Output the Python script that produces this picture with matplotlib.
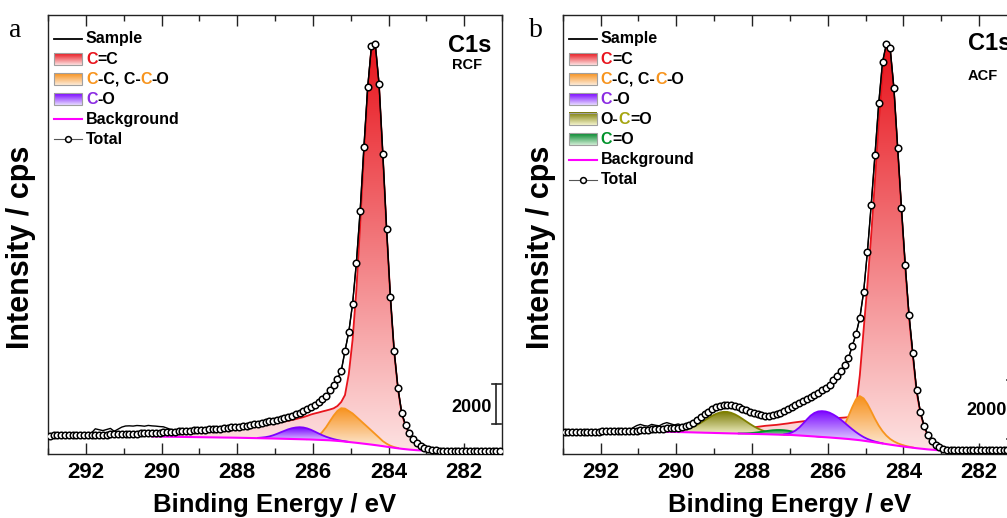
import numpy as np
import matplotlib
matplotlib.use("Agg")
import matplotlib.pyplot as plt
from matplotlib.colors import to_rgb
from matplotlib.lines import Line2D
from matplotlib.patches import Rectangle
from matplotlib.ticker import MultipleLocator

plt.rcParams["font.family"] = ["Liberation Sans", "DejaVu Sans"]
plt.rcParams["font.weight"] = "bold"

STEP = 0.1  # eV between data points
energy = np.round(np.linspace(292.95, 281.05, 120), 2)

# ---------------- RCF (panel a) ----------------
rcf_sample = [
    3880, 3870, 3885, 3878, 3890, 3882, 3885, 3895, 3888, 3900,
    3910, 4005, 4210, 4165, 4120, 4175, 4230, 4085, 4190, 4295,
    4350, 4358, 4346, 4374, 4362, 4340, 4378, 4356, 4344, 4322,
    4310, 4242, 4174, 4126, 4078, 4080, 4122, 4124, 4121, 4155,
    4160, 4160, 4240, 4200, 4200, 4235, 4245, 4260, 4295, 4305,
    4325, 4340, 4380, 4400, 4445, 4470, 4515, 4540, 4590, 4620,
    4665, 4695, 4755, 4795, 4860, 4925, 5025, 5105, 5195, 5285,
    5430, 5570, 5705, 5870, 6155, 6395, 6705, 7095, 8105, 9045,
    10450, 12500, 15100, 18300, 21300, 23350, 23450, 21450, 17950, 14200,
    10800, 8100, 6250, 5000, 4400, 4000, 3725, 3525, 3375, 3275,
    3205, 3145, 3135, 3118, 3125, 3115, 3126, 3114, 3124, 3116,
    3125, 3117, 3123, 3114, 3126, 3118, 3122, 3116, 3124, 3117]
rcf_total = [
    3875, 3877, 3880, 3882, 3884, 3887, 3889, 3891, 3893, 3896,
    3900, 3905, 3910, 3915, 3920, 3925, 3930, 3935, 3940, 3945,
    3950, 3958, 3966, 3974, 3982, 3990, 3998, 4006, 4014, 4022,
    4030, 4042, 4054, 4066, 4078, 4090, 4102, 4114, 4126, 4140,
    4150, 4165, 4180, 4195, 4210, 4225, 4245, 4265, 4285, 4305,
    4320, 4345, 4375, 4405, 4440, 4475, 4510, 4545, 4585, 4625,
    4660, 4700, 4750, 4800, 4855, 4930, 5020, 5110, 5190, 5290,
    5425, 5575, 5700, 5875, 6150, 6400, 6700, 7100, 8100, 9050,
    10450, 12500, 15100, 18300, 21300, 23350, 23450, 21450, 17950, 14200,
    10800, 8100, 6250, 5000, 4400, 4000, 3725, 3525, 3375, 3275,
    3200, 3150, 3130, 3122, 3120, 3118, 3121, 3119, 3120, 3118,
    3120, 3121, 3119, 3118, 3120, 3122, 3119, 3120, 3118, 3120]
rcf_bg_start = 290.25
rcf_bg = [
    3825, 3822, 3820, 3817, 3814, 3812, 3809, 3806, 3803, 3801, 3798, 3795,
    3792, 3790, 3787, 3784, 3782, 3779, 3776, 3773, 3771, 3768, 3765,
    3761, 3757, 3753, 3749, 3745, 3741, 3737, 3733, 3729, 3725,
    3720, 3715, 3710, 3705, 3700, 3695, 3690, 3685, 3680, 3675,
    3667, 3659, 3651, 3643, 3635, 3620, 3605, 3590, 3570, 3550,
    3530, 3510, 3488, 3465, 3443, 3420, 3395, 3370, 3343, 3315,
    3288, 3260, 3235, 3210, 3190, 3170, 3155, 3140, 3132, 3125,
    3122, 3120]
# fitted components, counts above background
rcf_cc_start = 290.25          # C=C
rcf_cc = [
    100, 120, 140, 160, 180, 200, 215, 230, 245, 260, 275, 290,
    305, 320, 335, 350, 370, 390, 410, 430, 450, 475, 500,
    540, 565, 590, 615, 640, 665, 690, 715, 745, 775,
    805, 835, 870, 905, 950, 1000, 1055, 1110, 1175, 1250,
    1310, 1365, 1425, 1480, 1540, 1615, 1745, 1960, 2330, 3400,
    5120, 7640, 10900, 14435, 17600, 19880, 20000, 17980, 14500, 10785,
    7460, 4790, 2965, 1740, 1160, 780, 545, 360, 220, 125,
    50, 10]
rcf_ccco_start = 286.15        # C-C, C-C-O
rcf_ccco = [15, 50, 100, 200, 400, 650, 950, 1250, 1500, 1650, 1650, 1550,
            1450, 1300, 1150, 1000, 850, 700, 550, 400, 250, 150, 75, 35, 15]
rcf_co_start = 287.45          # C-O
rcf_co = [15, 35, 60, 100, 160, 235, 320, 400, 480, 540, 580, 600, 590,
          550, 485, 405, 320, 240, 170, 115, 75, 45, 25, 15, 5]

# ---------------- ACF (panel b) ----------------
acf_sample = [
    2325, 2312, 2322, 2328, 2316, 2325, 2330, 2318, 2329, 2322,
    2335, 2327, 2345, 2337, 2355, 2383, 2416, 2380, 2453, 2527,
    2570, 2530, 2510, 2570, 2541, 2521, 2591, 2631, 2591, 2552,
    2585, 2542, 2536, 2567, 2625, 2730, 2817, 2929, 3009, 3084,
    3170, 3205, 3236, 3240, 3236, 3208, 3168, 3105, 3064, 3003,
    2964, 2918, 2896, 2850, 2862, 2874, 2930, 2969, 3049, 3105,
    3185, 3241, 3321, 3377, 3457, 3513, 3593, 3649, 3746, 3819,
    3916, 4074, 4222, 4380, 4596, 4822, 5242, 5638, 6194, 7066,
    8432, 10030, 11730, 13498, 14892, 15504, 15368, 14008, 11968, 9928,
    7990, 6290, 4998, 3740, 2992, 2516, 2210, 2006, 1887, 1802,
    1750, 1708, 1706, 1688, 1698, 1687, 1697, 1689, 1698, 1688,
    1698, 1688, 1697, 1687, 1698, 1690, 1696, 1686, 1699, 1688]
acf_total = [
    2318, 2319, 2320, 2321, 2322, 2323, 2324, 2325, 2326, 2327,
    2330, 2332, 2335, 2337, 2340, 2343, 2346, 2350, 2353, 2357,
    2370, 2380, 2390, 2400, 2411, 2421, 2431, 2441, 2451, 2462,
    2465, 2482, 2516, 2567, 2635, 2720, 2822, 2924, 3009, 3094,
    3162, 3213, 3230, 3247, 3230, 3213, 3162, 3111, 3060, 3009,
    2958, 2924, 2890, 2856, 2856, 2880, 2924, 2975, 3043, 3111,
    3179, 3247, 3315, 3383, 3451, 3519, 3587, 3655, 3740, 3825,
    3910, 4080, 4216, 4386, 4590, 4828, 5236, 5644, 6188, 7072,
    8432, 10030, 11730, 13498, 14892, 15504, 15368, 14008, 11968, 9928,
    7990, 6290, 4998, 3740, 2992, 2516, 2210, 2006, 1887, 1802,
    1744, 1714, 1700, 1694, 1692, 1693, 1691, 1694, 1692, 1693,
    1692, 1694, 1691, 1693, 1692, 1694, 1692, 1691, 1693, 1692]
acf_bg_start = 290.65
acf_bg = [
    2329, 2326, 2324, 2321, 2318, 2316, 2313, 2310, 2308, 2305, 2302,
    2299, 2295, 2292, 2288, 2285, 2282, 2278, 2275, 2271, 2268,
    2265, 2262, 2259, 2256, 2252, 2249, 2246, 2243, 2240, 2237,
    2233, 2229, 2225, 2221, 2218, 2214, 2210,
    2202, 2194, 2186, 2177, 2169,
    2160, 2151, 2142, 2134, 2125,
    2115, 2105, 2095, 2084, 2074,
    2060, 2047, 2033, 2015, 1997, 1979,
    1960, 1940, 1921, 1902, 1882, 1863,
    1845, 1827, 1809, 1793, 1777, 1761,
    1747, 1734, 1720, 1710, 1700, 1690,
    1685, 1680]
acf_cc_start = 288.35          # C=C
acf_cc = [
    110, 140, 170, 200, 225, 245, 265, 285, 300, 315,
    330, 350, 370, 390, 415, 440, 465, 490, 515, 540,
    565, 585, 605, 620, 640, 660, 680, 700, 720, 745, 790,
    1075, 2210, 3770, 5315, 7030, 8920, 10910, 12530, 13530, 13420,
    12080, 10050, 8030, 6080, 4400, 3120, 1910, 1210, 750, 455,
    280, 170, 95, 50, 15]
acf_ccco_start = 286.05        # C-C, C-C-O
acf_ccco = [10, 25, 60, 130, 260, 480, 780, 1100, 1380, 1500, 1440, 1270,
            1040, 800, 590, 420, 290, 195, 130, 85, 55, 34, 20, 10]
acf_co_start = 287.15          # C-O
acf_co = [15, 40, 85, 160, 270, 410, 560, 700, 800, 860, 880, 875, 845, 790,
          720, 635, 540, 440, 345, 260, 185, 125, 80, 48, 27, 14, 6]
acf_occo_start = 290.35        # O-C=O
acf_occo = [5, 9, 15, 25, 41, 63, 95, 138, 192, 258, 335, 418, 502, 582, 650,
            700, 727, 727, 700, 650, 582, 502, 418, 335, 258, 192, 138, 95,
            63, 41, 25, 15, 9, 5]
acf_cdo_start = 288.35         # C=O
acf_cdo = [5, 9, 16, 26, 40, 58, 79, 102, 124, 143, 155, 160, 155, 143, 124,
           102, 79, 58, 40, 26, 16, 9, 5]

RED, ORANGE, PURPLE, OLIVE, GREEN = "#e8141c", "#f7941d", "#7f00ff", "#808000", "#00922a"
STYLE = {
    "C=C":   dict(line=RED,    top="#e8141c", bottom="#fde2e2",
                  label=[("C", RED), ("=C", "black")]),
    "C-C":   dict(line=ORANGE, top="#f7901a", bottom="#fdebd9",
                  label=[("C", ORANGE), ("-C, C-", "black"), ("C", ORANGE), ("-O", "black")]),
    "C-O":   dict(line=PURPLE, top="#7800ff", bottom="#e6dcff",
                  label=[("C", "#8a2be2"), ("-O", "black")]),
    "O-C=O": dict(line=OLIVE,  top="#787800", bottom="#f4f4cc",
                  label=[("O-", "black"), ("C", "#a5a510"), ("=O", "black")]),
    "C=O":   dict(line=GREEN,  top="#00862a", bottom="#d2eed6",
                  label=[("C", GREEN), ("=O", "black")]),
}
BG_COLOR = "#ff00ff"


def series(start, values):
    v = np.asarray(values, float)
    return np.round(start - STEP * np.arange(len(v)), 2), v


def gradient(top, bottom, n=256):
    t = np.linspace(0, 1, n)[:, None, None]
    lo, hi = np.array(to_rgb(bottom)), np.array(to_rgb(top))
    return np.repeat(lo + (hi - lo) * t, 2, axis=1)


def gradient_fill(ax, e, lower, upper, top, bottom, z):
    poly = ax.fill_between(e, lower, upper, facecolor="none", edgecolor="none", zorder=z)
    im = ax.imshow(gradient(top, bottom), extent=(e.min(), e.max(), lower.min(), upper.max()),
                   origin="lower", aspect="auto", interpolation="bilinear", zorder=z)
    im.set_clip_path(poly.get_paths()[0], transform=ax.transData)


def rich_text(ax, x, y, parts, size):
    t = ax.text(x, y, parts[0][0], color=parts[0][1], transform=ax.transAxes,
                fontsize=size, fontweight="bold", ha="left", va="center", zorder=30)
    for s, c in parts[1:]:
        t = ax.annotate(s, xy=(1, 0), xycoords=t, ha="left", va="bottom", color=c,
                        fontsize=size, fontweight="bold", zorder=30)


def draw_panel(ax, sample, total, bg_start, bg, comps, legend_keys, ylim, tag, tag_pos,
               bar_y0, bar_text_y, label_x):
    fig = ax.figure
    bgE, bgV = series(bg_start, bg)
    # each component: gradient fill followed by its own outline
    for k, (key, start, net) in enumerate(comps):
        st = STYLE[key]
        e, v = series(start, net)
        base = bgV[np.rint((bgE[0] - e) / STEP).astype(int)]
        gradient_fill(ax, e, base, base + v, st["top"], st["bottom"], 2 + 0.2 * k)
        ax.plot(e, base + v, color=st["line"], lw=1.3, zorder=2.1 + 0.2 * k)
    ax.plot(bgE, bgV, color=BG_COLOR, lw=1.5, zorder=4)
    ax.plot(energy, sample, color="black", lw=1.0, zorder=5)
    ax.plot(energy, total, color="black", lw=0.9, marker="o", ms=4.7, mfc="white",
            mec="black", mew=1.1, zorder=6)

    # legend built from pixel offsets inside the axes
    W = ax.get_position().width * fig.get_figwidth() * fig.dpi
    H = ax.get_position().height * fig.get_figheight() * fig.dpi
    fx = lambda px: px / W
    fy = lambda py: 1 - py / H
    rows = [("line", "Sample")] + [("patch", key) for key in legend_keys] + \
           [("bg", "Background"), ("total", "Total")]
    x0, x1, xt = fx(6), fx(34), fx(38)
    for i, (kind, key) in enumerate(rows):
        py = 24 + 20.1 * i
        y = fy(py)
        if kind == "patch":
            st = STYLE[key]
            ax.imshow(gradient(st["top"], st["bottom"]), extent=(x0, x1, fy(py + 6), fy(py - 6)),
                      transform=ax.transAxes, origin="lower", aspect="auto", zorder=25)
            ax.add_patch(Rectangle((x0, fy(py + 6)), x1 - x0, fy(py - 6) - fy(py + 6),
                                   transform=ax.transAxes, fill=False, edgecolor="#a0a0a0",
                                   lw=0.8, zorder=26))
            rich_text(ax, xt, y, st["label"], 11.5)
        else:
            if kind == "line":
                ax.add_line(Line2D([x0, x1], [y, y], transform=ax.transAxes, color="black", lw=1.3))
            elif kind == "bg":
                ax.add_line(Line2D([x0, x1], [y, y], transform=ax.transAxes, color=BG_COLOR, lw=1.5))
            else:
                ax.add_line(Line2D([x0, x1], [y, y], transform=ax.transAxes, color="#555555", lw=0.8))
                ax.add_line(Line2D([(x0 + x1) / 2], [y], transform=ax.transAxes, marker="o",
                                   ms=4.2, mfc="white", mec="black", mew=1.1, lw=0))
            rich_text(ax, xt, y, [(key, "black")], 11.5)

    # 2000-count scale bar
    bx = 281.15
    ax.plot([bx, bx], [bar_y0, bar_y0 + 2000], color="#222222", lw=1.2, zorder=7)
    for yy in (bar_y0, bar_y0 + 2000):
        ax.plot([bx - 0.12, bx + 0.12], [yy, yy], color="#222222", lw=1.2, zorder=7)
    ax.text(281.26, bar_text_y, "2000", ha="right", va="center", fontsize=13, fontweight="bold")

    xt_data, (y_c1s, y_tag) = tag_pos
    xform = ax.get_xaxis_transform()
    ax.text(xt_data[0], y_c1s, "C1s", transform=xform, ha="left", va="center", fontsize=17,
            fontweight="bold")
    ax.text(xt_data[1], y_tag, tag, transform=xform, ha="left", va="center", fontsize=10.5,
            fontweight="bold")

    ax.set_xlim(293, 281)
    ax.set_ylim(*ylim)
    ax.xaxis.set_major_locator(MultipleLocator(2))
    ax.xaxis.set_minor_locator(MultipleLocator(1))
    ax.tick_params(axis="x", which="major", direction="in", length=8, width=1.0, top=True,
                   labelsize=16, pad=6, color="#222222")
    ax.tick_params(axis="x", which="minor", direction="in", length=4.5, width=1.0, top=True,
                   color="#222222")
    ax.tick_params(axis="y", which="both", left=False, right=False, labelleft=False)
    for lab in ax.get_xticklabels():
        lab.set_fontweight("bold")
    for sp in ax.spines.values():
        sp.set_color("#222222")
        sp.set_linewidth(1.0)
    ax.set_xlabel("Binding Energy / eV", fontsize=18.5, fontweight="bold")
    ax.xaxis.set_label_coords(0.5, -0.09)
    ax.set_ylabel("Intensity / cps", fontsize=22, fontweight="bold")
    ax.yaxis.set_label_coords(label_x, 0.47)


fig = plt.figure(figsize=(10.07, 5.18), dpi=100)
ax_a = fig.add_axes([48 / 1007, 64.5 / 518, 454 / 1007, 438.5 / 518])
ax_b = fig.add_axes([562.7 / 1007, 64.5 / 518, 454.2 / 1007, 438.5 / 518])

draw_panel(ax_a, rcf_sample, rcf_total, rcf_bg_start, rcf_bg,
           [("C=C", rcf_cc_start, rcf_cc), ("C-C", rcf_ccco_start, rcf_ccco),
            ("C-O", rcf_co_start, rcf_co)],
           ["C=C", "C-C", "C-O"],
           (2975, 24900), "RCF", ((282.44, 282.31), (0.930, 0.887)), 4450, 5250, -0.027)
draw_panel(ax_b, acf_sample, acf_total, acf_bg_start, acf_bg,
           [("C=C", acf_cc_start, acf_cc), ("C-C", acf_ccco_start, acf_ccco),
            ("O-C=O", acf_occo_start, acf_occo), ("C=O", acf_cdo_start, acf_cdo),
            ("C-O", acf_co_start, acf_co)],
           ["C=C", "C-C", "C-O", "O-C=O", "C=O"],
           (1581, 16490), "ACF", ((282.30, 282.30), (0.934, 0.862)), 2080, 3030, -0.014)

serif = ["Liberation Serif", "DejaVu Serif"]
fig.text(15.5 / 1007, 1 - 37 / 518, "a", family=serif, fontsize=20, fontweight="normal",
         ha="center", va="baseline")
fig.text(536 / 1007, 1 - 37 / 518, "b", family=serif, fontsize=20, fontweight="normal",
         ha="center", va="baseline")

fig.savefig("out.png", dpi=100)
